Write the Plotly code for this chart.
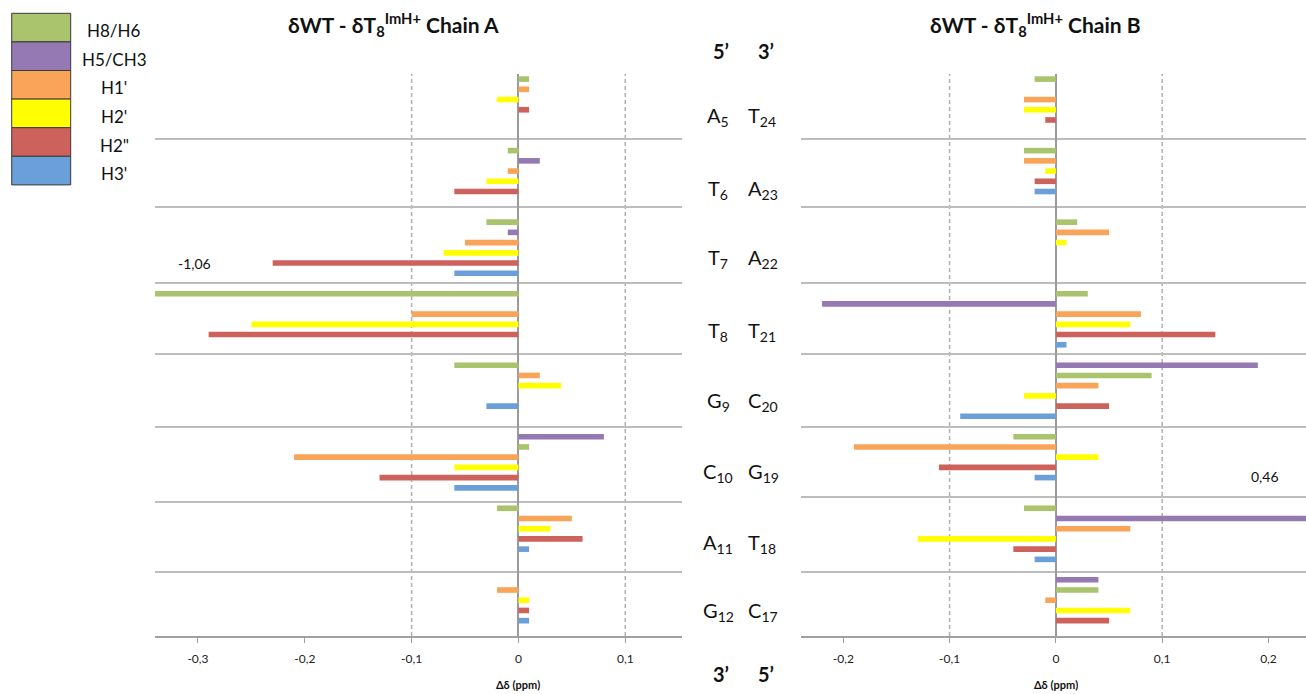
import plotly.graph_objects as go

W, H = 1306, 694

# ---------------- data ----------------
protons = ["H8/H6", "H5/CH3", "H1'", "H2'", "H2''", "H3'"]
legend_labels = ["H8/H6", "H5/CH3", "H1'", "H2'", "H2\"", "H3'"]

chainA_bases = ["A", "T", "T", "T", "G", "C", "A", "G"]
chainA_labels = ["A<sub>5</sub>", "T<sub>6</sub>", "T<sub>7</sub>", "T<sub>8</sub>",
                 "G<sub>9</sub>", "C<sub>10</sub>", "A<sub>11</sub>", "G<sub>12</sub>"]
chainB_bases = ["T", "A", "A", "T", "C", "G", "T", "C"]
chainB_labels = ["T<sub>24</sub>", "A<sub>23</sub>", "A<sub>22</sub>", "T<sub>21</sub>",
                 "C<sub>20</sub>", "G<sub>19</sub>", "T<sub>18</sub>", "C<sub>17</sub>"]

A_H8 = [0.01, -0.01, -0.03, -1.06, -0.06, 0.01, -0.02, None]
A_H5 = [None, 0.02, -0.01, None, None, 0.08, None, None]
A_H1p = [0.01, -0.01, -0.05, -0.10, 0.02, -0.21, 0.05, -0.02]
A_H2p = [-0.02, -0.03, -0.07, -0.25, 0.04, -0.06, 0.03, 0.01]
A_H2pp = [0.01, -0.06, -0.23, -0.29, None, -0.13, 0.06, 0.01]
A_H3p = [None, None, -0.06, None, -0.03, -0.06, 0.01, 0.01]

B_H8 = [-0.02, -0.03, 0.02, 0.03, 0.09, -0.04, -0.03, 0.04]
B_H5 = [None, None, None, -0.22, 0.19, None, 0.46, 0.04]
B_H1p = [-0.03, -0.03, 0.05, 0.08, 0.04, -0.19, 0.07, -0.01]
B_H2p = [-0.03, -0.01, 0.01, 0.07, -0.03, 0.04, -0.13, 0.07]
B_H2pp = [-0.01, -0.02, None, 0.15, 0.05, -0.11, -0.04, 0.05]
B_H3p = [None, -0.02, None, 0.01, -0.09, -0.02, -0.02, None]

xticks_A = [-0.3, -0.2, -0.1, 0, 0.1]
xticktext_A = ["-0,3", "-0,2", "-0,1", "0", "0,1"]
xticks_B = [-0.2, -0.1, 0, 0.1, 0.2]
xticktext_B = ["-0,2", "-0,1", "0", "0,1", "0,2"]

# ---------------- style / layout ----------------
colors = ["#A9C46C", "#9479B3", "#F9A458", "#FFFF00", "#CD625D", "#6A9FDA"]
FONT = "Lato, 'Open Sans', 'DejaVu Sans', sans-serif"
ROWS_PER_BASE = 7
N_SLOTS = 55
row_order = {"A": [0, 2, 3, 4, 5], "G": [0, 2, 3, 4, 5],
             "T": [0, 1, 2, 3, 4, 5], "C": [1, 0, 2, 3, 4, 5]}
sepA = [5.89, 12.55, 19.92, 26.95, 34.02, 41.36, 48.21]
sepB = [5.89, 12.55, 19.92, 26.95, 34.02, 40.87, 48.21]

TOP, BOT = 74, 636
ydom = [1 - BOT / H, 1 - TOP / H]


def px(x):
    return x / W


def py(y):
    return 1 - y / H


fig = go.Figure()


def add_chain(bases, series, xa, ya):
    for p, vals in enumerate(series):
        ys, xs = [], []
        for n, (b, v) in enumerate(zip(bases, vals)):
            if v is None:
                continue
            ys.append(ROWS_PER_BASE * n + row_order[b].index(p))
            xs.append(v)
        fig.add_trace(go.Bar(x=xs, y=ys, orientation="h", width=0.55,
                             marker=dict(color=colors[p], line=dict(width=0)),
                             name=protons[p], showlegend=False,
                             xaxis=xa, yaxis=ya))


add_chain(chainA_bases, [A_H8, A_H5, A_H1p, A_H2p, A_H2pp, A_H3p], "x", "y")
add_chain(chainB_bases, [B_H8, B_H5, B_H1p, B_H2p, B_H2pp, B_H3p], "x2", "y2")

xcommon = dict(showgrid=False, zeroline=True, zerolinecolor="#9A9A9A", zerolinewidth=1.5,
               showline=True, linecolor="#A0A0A0", linewidth=1.5,
               ticks="outside", ticklen=5, tickcolor="#A0A0A0", tickwidth=1,
               tickfont=dict(family=FONT, size=12, color="#222"),
               ticklabelstandoff=6, fixedrange=True)
ycommon = dict(range=[N_SLOTS - 0.5, -0.5], showticklabels=False, ticks="",
               showgrid=True, gridcolor="#BDBDBD", gridwidth=1.8, zeroline=False,
               showline=False, domain=ydom, tickmode="array")

fig.update_layout(
    width=W, height=H, margin=dict(l=0, r=0, t=0, b=0),
    paper_bgcolor="white", plot_bgcolor="white", barmode="overlay",
    font=dict(family=FONT, color="#111"),
    xaxis=dict(domain=[px(155), px(682)], range=[-0.3402, 0.1531],
               tickvals=xticks_A, ticktext=xticktext_A, anchor="y", **xcommon),
    yaxis=dict(anchor="x", tickvals=sepA, **ycommon),
    xaxis2=dict(domain=[px(801), 1.0], range=[-0.2398, 0.2353],
                tickvals=xticks_B, ticktext=xticktext_B, anchor="y2", **xcommon),
    yaxis2=dict(anchor="x2", tickvals=sepB, **ycommon),
)

shapes = []
# dashed reference lines at +/-0.1
for xa, yd in (("x", "y domain"), ("x2", "y2 domain")):
    for v in (-0.1, 0.1):
        shapes.append(dict(type="line", xref=xa, yref=yd, x0=v, x1=v, y0=0, y1=1,
                           line=dict(color="#B0B0B0", width=1.5, dash="4px,3px"),
                           layer="below"))
# legend swatches
box_top, box_h = 13.3, 28.6
for i, c in enumerate(colors):
    shapes.append(dict(type="rect", xref="paper", yref="paper",
                       x0=px(11.7), x1=px(70.7),
                       y0=py(box_top + (i + 1) * box_h), y1=py(box_top + i * box_h),
                       fillcolor=c, line=dict(color="#3A3A3A", width=1)))
fig.update_layout(shapes=shapes)

ann = []


def text(x, y, t, size, bold=False, xanchor="center", color="#111"):
    ann.append(dict(x=px(x), y=py(y), xref="paper", yref="paper", text=(f"<b>{t}</b>" if bold else t),
                    showarrow=False, xanchor=xanchor, yanchor="middle",
                    font=dict(family=FONT, size=size, color=color)))


for i, lab in enumerate(legend_labels):
    text(114, box_top + (i + 0.5) * box_h + 3, lab, 17)

text(393, 25, "δWT - δT<sub>8</sub><sup>ImH+</sup> Chain A", 21, bold=True)
text(1035, 25, "δWT - δT<sub>8</sub><sup>ImH+</sup> Chain B", 21, bold=True)

text(721, 51, "5’", 20, bold=True)
text(766, 51, "3’", 20, bold=True)
text(721, 674, "3’", 20, bold=True)
text(766, 674, "5’", 20, bold=True)

label_y = [117, 190, 258, 331, 402, 472, 543, 611]
for la, lb, yy in zip(chainA_labels, chainB_labels, label_y):
    text(718, yy, la, 20)
    text(746, yy, lb, 20, xanchor="left")

text(194, 263, "-1,06", 14)
text(1265, 477, "0,46", 14)

for xa in ("x", "x2"):
    ann.append(dict(x=0, y=py(684), xref=xa, yref="paper", text="<b>Δδ (ppm)</b>",
                    showarrow=False, xanchor="center", yanchor="middle",
                    font=dict(family=FONT, size=11, color="#111")))

fig.update_layout(annotations=ann)

fig.write_html("out.html")
